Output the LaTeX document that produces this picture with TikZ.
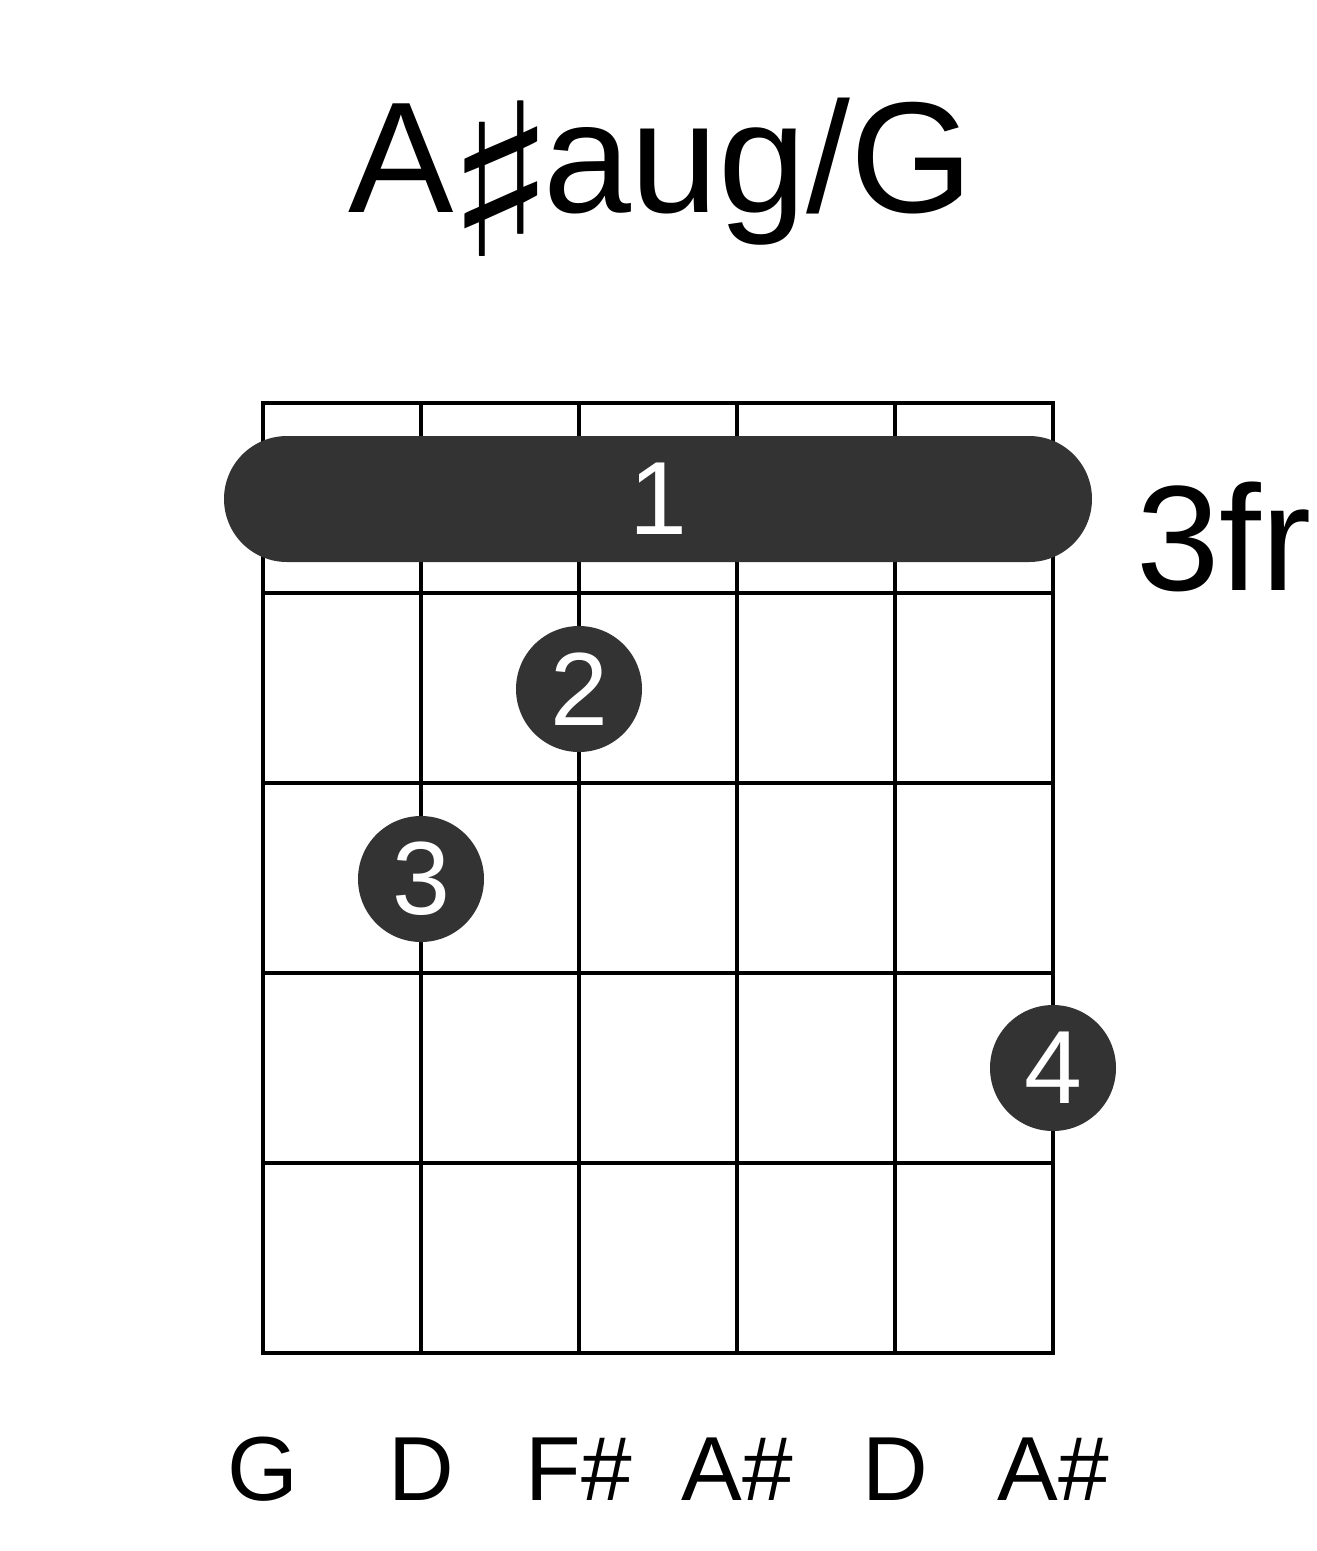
\documentclass[tikz,border=0pt]{standalone}
\usepackage{fontspec}
\setmainfont{Liberation Sans}
\newfontfamily\symfont{DejaVu Sans}
\usetikzlibrary{shapes.misc}
\definecolor{dotc}{HTML}{333333}
\begin{document}
\begin{tikzpicture}[x=1pt,y=-1pt,
  gridline/.style={line width=4.5pt, line cap=rect},
  fingerdot/.style={circle, fill=dotc, minimum size=126pt, inner sep=0pt, text=white, font=\fontsize{104}{104}\selectfont},
  barrebox/.style={rounded rectangle, fill=dotc, minimum width=868pt, minimum height=126pt, inner sep=0pt, text=white, font=\fontsize{104}{104}\selectfont},
  notelabel/.style={anchor=base, inner sep=0pt, font=\fontsize{91}{91}\selectfont},
  titlelabel/.style={anchor=base, inner sep=0pt, font=\fontsize{158}{158}\selectfont},
  fretlabel/.style={anchor=base west, inner sep=0pt, font=\fontsize{150}{150}\selectfont}]
\useasboundingbox (0,0) rectangle (1317,1551);
\fill[white] (0,0) rectangle (1317,1551);
% title
\node[titlelabel] (title) at (661,212) {A\kern-8pt\raisebox{-44pt}{\scalebox{1.08}[1]{\fontsize{213}{213}\symfont ♯}}\kern-14pt aug/G};
% grid coordinates
\foreach \i in {0,...,5} {
  \coordinate (s\i t) at (263+158*\i,403);
  \coordinate (s\i b) at (263+158*\i,1353);
  \coordinate (f\i l) at (263,403+190*\i);
  \coordinate (f\i r) at (1053,403+190*\i);
}
\foreach \i in {0,...,5} {
  \draw[gridline] (s\i t) -- (s\i b);
  \draw[gridline] (f\i l) -- (f\i r);
}
% barre
\node[barrebox] (barre) at (658,499) {1};
% finger dots
\node[fingerdot] (d2) at (579,689) {2};
\node[fingerdot] (d3) at (421,879) {3};
\node[fingerdot] (d4) at (1053,1068) {4};
% fret label
\node[fretlabel] (fr) at (1136,590) {3fr};
% string notes
\node[notelabel] (n0) at (263,1500) {G};
\node[notelabel] (n1) at (421,1500) {D};
\node[notelabel] (n2) at (579,1500) {F\#};
\node[notelabel] (n3) at (737,1500) {A\#};
\node[notelabel] (n4) at (895,1500) {D};
\node[notelabel] (n5) at (1053,1500) {A\#};
\end{tikzpicture}
\end{document}
